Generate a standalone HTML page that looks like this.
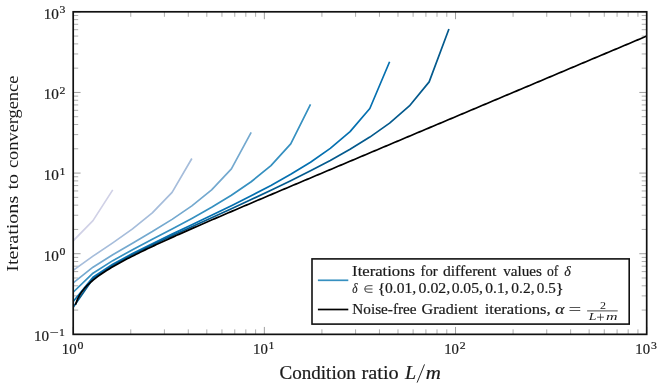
<!DOCTYPE html>
<html><head><meta charset="utf-8"><title>plot</title>
<style>
html,body{margin:0;padding:0;background:#fff;}
body{width:664px;height:389px;overflow:hidden;}
svg{display:block;}
text{font-family:"Liberation Serif",serif;fill:#1a1a1a;stroke:#1a1a1a;stroke-width:0.2px;}
.it{font-style:italic;}
#yl text,#fr text{stroke-width:0;}
</style></head><body>
<svg width="664" height="389" viewBox="0 0 664 389">
<rect x="0" y="0" width="664" height="389" fill="#fff"/>
<path d="M73.20 334.35 v-7.40 M73.20 11.80 v7.40 M264.37 334.35 v-7.40 M264.37 11.80 v7.40 M455.53 334.35 v-7.40 M455.53 11.80 v7.40 M646.70 334.35 v-7.40 M646.70 11.80 v7.40 M73.20 334.35 h7.40 M646.70 334.35 h-7.40 M73.20 253.71 h7.40 M646.70 253.71 h-7.40 M73.20 173.08 h7.40 M646.70 173.08 h-7.40 M73.20 92.44 h7.40 M646.70 92.44 h-7.40 M73.20 11.80 h7.40 M646.70 11.80 h-7.40" stroke="#6c6c6c" stroke-width="0.65" fill="none"/>
<path d="M130.75 334.35 v-5.00 M130.75 11.80 v5.00 M164.41 334.35 v-5.00 M164.41 11.80 v5.00 M188.29 334.35 v-5.00 M188.29 11.80 v5.00 M206.82 334.35 v-5.00 M206.82 11.80 v5.00 M221.96 334.35 v-5.00 M221.96 11.80 v5.00 M234.75 334.35 v-5.00 M234.75 11.80 v5.00 M245.84 334.35 v-5.00 M245.84 11.80 v5.00 M255.62 334.35 v-5.00 M255.62 11.80 v5.00 M321.91 334.35 v-5.00 M321.91 11.80 v5.00 M355.58 334.35 v-5.00 M355.58 11.80 v5.00 M379.46 334.35 v-5.00 M379.46 11.80 v5.00 M397.99 334.35 v-5.00 M397.99 11.80 v5.00 M413.12 334.35 v-5.00 M413.12 11.80 v5.00 M425.92 334.35 v-5.00 M425.92 11.80 v5.00 M437.01 334.35 v-5.00 M437.01 11.80 v5.00 M446.79 334.35 v-5.00 M446.79 11.80 v5.00 M513.08 334.35 v-5.00 M513.08 11.80 v5.00 M546.74 334.35 v-5.00 M546.74 11.80 v5.00 M570.63 334.35 v-5.00 M570.63 11.80 v5.00 M589.15 334.35 v-5.00 M589.15 11.80 v5.00 M604.29 334.35 v-5.00 M604.29 11.80 v5.00 M617.09 334.35 v-5.00 M617.09 11.80 v5.00 M628.17 334.35 v-5.00 M628.17 11.80 v5.00 M637.95 334.35 v-5.00 M637.95 11.80 v5.00 M73.20 310.08 h5.00 M646.70 310.08 h-5.00 M73.20 295.88 h5.00 M646.70 295.88 h-5.00 M73.20 285.80 h5.00 M646.70 285.80 h-5.00 M73.20 277.99 h5.00 M646.70 277.99 h-5.00 M73.20 271.60 h5.00 M646.70 271.60 h-5.00 M73.20 266.20 h5.00 M646.70 266.20 h-5.00 M73.20 261.53 h5.00 M646.70 261.53 h-5.00 M73.20 257.40 h5.00 M646.70 257.40 h-5.00 M73.20 229.44 h5.00 M646.70 229.44 h-5.00 M73.20 215.24 h5.00 M646.70 215.24 h-5.00 M73.20 205.16 h5.00 M646.70 205.16 h-5.00 M73.20 197.35 h5.00 M646.70 197.35 h-5.00 M73.20 190.96 h5.00 M646.70 190.96 h-5.00 M73.20 185.57 h5.00 M646.70 185.57 h-5.00 M73.20 180.89 h5.00 M646.70 180.89 h-5.00 M73.20 176.76 h5.00 M646.70 176.76 h-5.00 M73.20 148.80 h5.00 M646.70 148.80 h-5.00 M73.20 134.60 h5.00 M646.70 134.60 h-5.00 M73.20 124.53 h5.00 M646.70 124.53 h-5.00 M73.20 116.71 h5.00 M646.70 116.71 h-5.00 M73.20 110.33 h5.00 M646.70 110.33 h-5.00 M73.20 104.93 h5.00 M646.70 104.93 h-5.00 M73.20 100.25 h5.00 M646.70 100.25 h-5.00 M73.20 96.13 h5.00 M646.70 96.13 h-5.00 M73.20 68.16 h5.00 M646.70 68.16 h-5.00 M73.20 53.96 h5.00 M646.70 53.96 h-5.00 M73.20 43.89 h5.00 M646.70 43.89 h-5.00 M73.20 36.07 h5.00 M646.70 36.07 h-5.00 M73.20 29.69 h5.00 M646.70 29.69 h-5.00 M73.20 24.29 h5.00 M646.70 24.29 h-5.00 M73.20 19.61 h5.00 M646.70 19.61 h-5.00 M73.20 15.49 h5.00 M646.70 15.49 h-5.00" stroke="#6a6a6a" stroke-width="0.55" fill="none"/>
<clipPath id="c"><rect x="73.20" y="11.80" width="573.50" height="322.55"/></clipPath>
<g clip-path="url(#c)">
<path d="M73.20 240.88 L92.98 220.64 L112.75 189.91" stroke="#d0d1e6" stroke-width="1.70" fill="none" stroke-linejoin="round"/>
<path d="M73.20 270.38 L92.98 256.15 L112.75 242.83 L132.53 228.87 L152.30 212.92 L172.08 192.40 L191.86 158.45" stroke="#a6bddb" stroke-width="1.70" fill="none" stroke-linejoin="round"/>
<path d="M73.20 282.92 L92.98 267.16 L112.75 254.73 L132.53 243.17 L152.30 231.58 L172.08 219.37 L191.86 205.86 L211.63 189.90 L231.41 168.86 L251.18 132.39" stroke="#74a9cf" stroke-width="1.70" fill="none" stroke-linejoin="round"/>
<path d="M73.20 292.14 L92.98 273.23 L112.75 260.65 L132.53 249.70 L152.30 239.30 L172.08 228.97 L191.86 218.41 L211.63 207.31 L231.41 195.30 L251.18 181.77 L270.96 165.58 L290.73 143.86 L310.51 104.28" stroke="#3690c0" stroke-width="1.70" fill="none" stroke-linejoin="round"/>
<path d="M73.20 301.48 L92.98 277.27 L112.75 264.30 L132.53 253.54 L152.30 243.65 L172.08 234.14 L191.86 224.74 L211.63 215.30 L231.41 205.69 L251.18 195.77 L270.96 185.39 L290.73 174.31 L310.51 162.19 L330.29 148.40 L350.06 131.64 L369.84 108.52 L389.61 61.73" stroke="#0570b0" stroke-width="1.70" fill="none" stroke-linejoin="round"/>
<path d="M73.20 307.19 L92.98 278.72 L112.75 265.54 L132.53 254.82 L152.30 245.07 L172.08 235.78 L191.86 226.71 L211.63 217.71 L231.41 208.69 L251.18 199.57 L270.96 190.29 L290.73 180.75 L310.51 170.85 L330.29 160.45 L350.06 149.32 L369.84 137.09 L389.61 123.10 L409.39 105.98 L429.17 81.90 L448.94 29.05" stroke="#045a8d" stroke-width="1.70" fill="none" stroke-linejoin="round"/>
<path d="M75.45 304.81 L77.70 298.66 L79.95 294.49 L82.20 291.20 L84.45 288.42 L86.69 285.97 L88.94 283.77 L91.19 281.74 L93.44 279.85 L95.69 278.08 L97.94 276.40 L100.19 274.79 L102.44 273.25 L104.69 271.77 L106.94 270.33 L109.18 268.94 L111.43 267.58 L113.68 266.26 L115.93 264.97 L118.18 263.70 L120.43 262.46 L122.68 261.24 L124.93 260.04 L127.18 258.85 L129.43 257.69 L131.67 256.53 L133.92 255.39 L136.17 254.27 L138.42 253.15 L140.67 252.05 L142.92 250.95 L145.17 249.87 L147.42 248.79 L149.67 247.72 L151.92 246.66 L154.16 245.61 L156.41 244.56 L158.66 243.52 L160.91 242.48 L163.16 241.45 L165.41 240.42 L167.66 239.40 L169.91 238.38 L172.16 237.37 L174.41 236.36 L176.65 235.35 L178.90 234.35 L181.15 233.35 L183.40 232.35 L185.65 231.35 L187.90 230.36 L190.15 229.37 L192.40 228.38 L194.65 227.40 L196.90 226.42 L199.15 225.43 L201.39 224.46 L203.64 223.48 L205.89 222.50 L208.14 221.53 L210.39 220.55 L212.64 219.58 L214.89 218.61 L217.14 217.64 L219.39 216.67 L221.64 215.70 L223.88 214.74 L226.13 213.77 L228.38 212.81 L230.63 211.85 L232.88 210.88 L235.13 209.92 L237.38 208.96 L239.63 208.00 L241.88 207.04 L244.13 206.08 L246.37 205.12 L248.62 204.16 L250.87 203.20 L253.12 202.25 L255.37 201.29 L257.62 200.33 L259.87 199.38 L262.12 198.42 L264.37 197.47 L266.62 196.51 L268.86 195.56 L271.11 194.60 L273.36 193.65 L275.61 192.70 L277.86 191.74 L280.11 190.79 L282.36 189.84 L284.61 188.88 L286.86 187.93 L289.11 186.98 L291.35 186.03 L293.60 185.07 L295.85 184.12 L298.10 183.17 L300.35 182.22 L302.60 181.27 L304.85 180.32 L307.10 179.37 L309.35 178.42 L311.60 177.46 L313.85 176.51 L316.09 175.56 L318.34 174.61 L320.59 173.66 L322.84 172.71 L325.09 171.76 L327.34 170.81 L329.59 169.86 L331.84 168.91 L334.09 167.96 L336.34 167.01 L338.58 166.06 L340.83 165.11 L343.08 164.16 L345.33 163.21 L347.58 162.26 L349.83 161.31 L352.08 160.37 L354.33 159.42 L356.58 158.47 L358.83 157.52 L361.07 156.57 L363.32 155.62 L365.57 154.67 L367.82 153.72 L370.07 152.77 L372.32 151.82 L374.57 150.87 L376.82 149.92 L379.07 148.97 L381.32 148.03 L383.56 147.08 L385.81 146.13 L388.06 145.18 L390.31 144.23 L392.56 143.28 L394.81 142.33 L397.06 141.38 L399.31 140.43 L401.56 139.48 L403.81 138.54 L406.05 137.59 L408.30 136.64 L410.55 135.69 L412.80 134.74 L415.05 133.79 L417.30 132.84 L419.55 131.89 L421.80 130.94 L424.05 130.00 L426.30 129.05 L428.55 128.10 L430.79 127.15 L433.04 126.20 L435.29 125.25 L437.54 124.30 L439.79 123.35 L442.04 122.41 L444.29 121.46 L446.54 120.51 L448.79 119.56 L451.04 118.61 L453.28 117.66 L455.53 116.71 L457.78 115.76 L460.03 114.82 L462.28 113.87 L464.53 112.92 L466.78 111.97 L469.03 111.02 L471.28 110.07 L473.53 109.12 L475.77 108.17 L478.02 107.23 L480.27 106.28 L482.52 105.33 L484.77 104.38 L487.02 103.43 L489.27 102.48 L491.52 101.53 L493.77 100.58 L496.02 99.64 L498.26 98.69 L500.51 97.74 L502.76 96.79 L505.01 95.84 L507.26 94.89 L509.51 93.94 L511.76 93.00 L514.01 92.05 L516.26 91.10 L518.51 90.15 L520.75 89.20 L523.00 88.25 L525.25 87.30 L527.50 86.35 L529.75 85.41 L532.00 84.46 L534.25 83.51 L536.50 82.56 L538.75 81.61 L541.00 80.66 L543.25 79.71 L545.49 78.76 L547.74 77.82 L549.99 76.87 L552.24 75.92 L554.49 74.97 L556.74 74.02 L558.99 73.07 L561.24 72.12 L563.49 71.18 L565.74 70.23 L567.98 69.28 L570.23 68.33 L572.48 67.38 L574.73 66.43 L576.98 65.48 L579.23 64.53 L581.48 63.59 L583.73 62.64 L585.98 61.69 L588.23 60.74 L590.47 59.79 L592.72 58.84 L594.97 57.89 L597.22 56.95 L599.47 56.00 L601.72 55.05 L603.97 54.10 L606.22 53.15 L608.47 52.20 L610.72 51.25 L612.96 50.30 L615.21 49.36 L617.46 48.41 L619.71 47.46 L621.96 46.51 L624.21 45.56 L626.46 44.61 L628.71 43.66 L630.96 42.72 L633.21 41.77 L635.45 40.82 L637.70 39.87 L639.95 38.92 L642.20 37.97 L644.45 37.02 L646.70 36.07" stroke="#000" stroke-width="1.70" fill="none" stroke-linejoin="round"/>
</g>
<rect x="73.20" y="11.80" width="573.50" height="322.55" fill="none" stroke="#111" stroke-width="1.7"/>
<g id="txt" style="filter:grayscale(1)">
<text x="61.84" y="353.50" font-size="14.20" textLength="14.77" lengthAdjust="spacingAndGlyphs">10</text><text x="77.40" y="348.60" font-size="11.20" textLength="5.90" lengthAdjust="spacingAndGlyphs">0</text>
<text x="253.01" y="353.50" font-size="14.20" textLength="14.77" lengthAdjust="spacingAndGlyphs">10</text><text x="268.57" y="348.60" font-size="11.20" textLength="5.90" lengthAdjust="spacingAndGlyphs">1</text>
<text x="444.18" y="353.50" font-size="14.20" textLength="14.77" lengthAdjust="spacingAndGlyphs">10</text><text x="459.73" y="348.60" font-size="11.20" textLength="5.90" lengthAdjust="spacingAndGlyphs">2</text>
<text x="635.34" y="353.50" font-size="14.20" textLength="14.77" lengthAdjust="spacingAndGlyphs">10</text><text x="650.90" y="348.60" font-size="11.20" textLength="5.90" lengthAdjust="spacingAndGlyphs">3</text>
<text x="33.92" y="341.35" font-size="14.20" textLength="15.11" lengthAdjust="spacingAndGlyphs">10</text><text x="49.60" y="335.85" font-size="11.20" textLength="8.98" lengthAdjust="spacingAndGlyphs">−</text><text x="59.00" y="335.85" font-size="11.20" textLength="5.90" lengthAdjust="spacingAndGlyphs">1</text>
<text x="43.71" y="260.71" font-size="14.20" textLength="15.23" lengthAdjust="spacingAndGlyphs">10</text><text x="59.45" y="255.21" font-size="11.20" textLength="5.90" lengthAdjust="spacingAndGlyphs">0</text>
<text x="43.71" y="180.08" font-size="14.20" textLength="15.23" lengthAdjust="spacingAndGlyphs">10</text><text x="59.45" y="174.58" font-size="11.20" textLength="5.90" lengthAdjust="spacingAndGlyphs">1</text>
<text x="43.71" y="99.44" font-size="14.20" textLength="15.23" lengthAdjust="spacingAndGlyphs">10</text><text x="59.45" y="93.94" font-size="11.20" textLength="5.90" lengthAdjust="spacingAndGlyphs">2</text>
<text x="43.71" y="18.80" font-size="14.20" textLength="15.23" lengthAdjust="spacingAndGlyphs">10</text><text x="59.45" y="13.30" font-size="11.20" textLength="5.90" lengthAdjust="spacingAndGlyphs">3</text>
<text x="279.44" y="379.20" font-size="18.40" textLength="76.36" lengthAdjust="spacingAndGlyphs">Condition</text><text x="361.59" y="379.20" font-size="18.40" textLength="37.16" lengthAdjust="spacingAndGlyphs">ratio</text><text x="405.10" y="379.20" font-size="18.40" textLength="11.12" lengthAdjust="spacingAndGlyphs" class="it">L</text><path d="M417.1 382.6 L424.5 364.4" stroke="#1a1a1a" stroke-width="0.95" fill="none"/><text x="425.87" y="379.20" font-size="18.40" textLength="15.12" lengthAdjust="spacingAndGlyphs" class="it">m</text>
<g id="yl" transform="translate(17.6,0) rotate(-90)"><text x="-271.70" y="0.00" font-size="16.80" textLength="75.93" lengthAdjust="spacingAndGlyphs">Iterations</text><text x="-189.60" y="0.00" font-size="16.80" textLength="15.66" lengthAdjust="spacingAndGlyphs">to</text><text x="-168.04" y="0.00" font-size="16.80" textLength="92.37" lengthAdjust="spacingAndGlyphs">convergence</text></g>
</g>
<rect x="312.0" y="258.9" width="317.2" height="65.2" fill="#fff" stroke="#111" stroke-width="1.6"/>
<path d="M317.9 280.3 H348.3" stroke="#3690c0" stroke-width="1.7"/>
<path d="M317.9 309.5 H348.3" stroke="#000" stroke-width="1.7"/>
<g id="leg" style="filter:grayscale(1)">
<text x="352.12" y="275.90" font-size="14.20" textLength="62.89" lengthAdjust="spacingAndGlyphs">Iterations</text>
<text x="420.56" y="275.90" font-size="14.20" textLength="17.03" lengthAdjust="spacingAndGlyphs">for</text>
<text x="442.95" y="275.90" font-size="14.20" textLength="53.52" lengthAdjust="spacingAndGlyphs">different</text>
<text x="503.20" y="275.90" font-size="14.20" textLength="38.72" lengthAdjust="spacingAndGlyphs">values</text>
<text x="546.92" y="275.90" font-size="14.20" textLength="11.35" lengthAdjust="spacingAndGlyphs">of</text>
<text x="564.18" y="275.90" font-size="14.20" textLength="6.51" lengthAdjust="spacingAndGlyphs" class="it">δ</text>
<text x="352.36" y="292.80" font-size="14.20" textLength="5.27" lengthAdjust="spacingAndGlyphs" class="it">δ</text>
<text x="377.86" y="292.80" font-size="14.20" textLength="7.68" lengthAdjust="spacingAndGlyphs">{</text>
<text x="385.06" y="292.80" font-size="14.20" textLength="31.08" lengthAdjust="spacingAndGlyphs">0.01,</text>
<text x="418.55" y="292.80" font-size="14.20" textLength="31.71" lengthAdjust="spacingAndGlyphs">0.02,</text>
<text x="451.65" y="292.80" font-size="14.20" textLength="31.29" lengthAdjust="spacingAndGlyphs">0.05,</text>
<text x="485.36" y="292.80" font-size="14.20" textLength="23.27" lengthAdjust="spacingAndGlyphs">0.1,</text>
<text x="511.36" y="292.80" font-size="14.20" textLength="23.17" lengthAdjust="spacingAndGlyphs">0.2,</text>
<text x="536.87" y="292.80" font-size="14.20" textLength="18.94" lengthAdjust="spacingAndGlyphs">0.5</text>
<text x="555.44" y="292.80" font-size="14.20" textLength="8.32" lengthAdjust="spacingAndGlyphs">}</text>
<path d="M372.5 285.7 H368.0 A3.3 3.3 0 0 0 368.0 292.3 H372.5 M364.8 289.0 H372.5" stroke="#1a1a1a" stroke-width="0.8" fill="none"/>
<text x="352.34" y="314.20" font-size="14.20" textLength="64.29" lengthAdjust="spacingAndGlyphs">Noise-free</text>
<text x="421.56" y="314.20" font-size="14.20" textLength="56.30" lengthAdjust="spacingAndGlyphs">Gradient</text>
<text x="484.77" y="314.20" font-size="14.20" textLength="65.84" lengthAdjust="spacingAndGlyphs">iterations,</text>
<text x="555.28" y="314.20" font-size="14.20" textLength="9.16" lengthAdjust="spacingAndGlyphs" class="it">α</text>
<text x="568.80" y="314.20" font-size="14.20" textLength="12.37" lengthAdjust="spacingAndGlyphs">=</text>
<path d="M587.1 310.9 H617.7" stroke="#1a1a1a" stroke-width="0.8"/>
<g id="fr">
<text x="599.96" y="308.70" font-size="10.00" textLength="6.00" lengthAdjust="spacingAndGlyphs">2</text>
<text x="588.74" y="319.60" font-size="10.80" textLength="7.70" lengthAdjust="spacingAndGlyphs" class="it">L</text><path d="M597.0 317.2 H604.0 M600.5 313.7 V320.7" stroke="#1a1a1a" stroke-width="0.7" fill="none"/><text x="606.04" y="319.60" font-size="10.80" textLength="11.53" lengthAdjust="spacingAndGlyphs" class="it">m</text>
</g>
</g>
</svg>
</body></html>
